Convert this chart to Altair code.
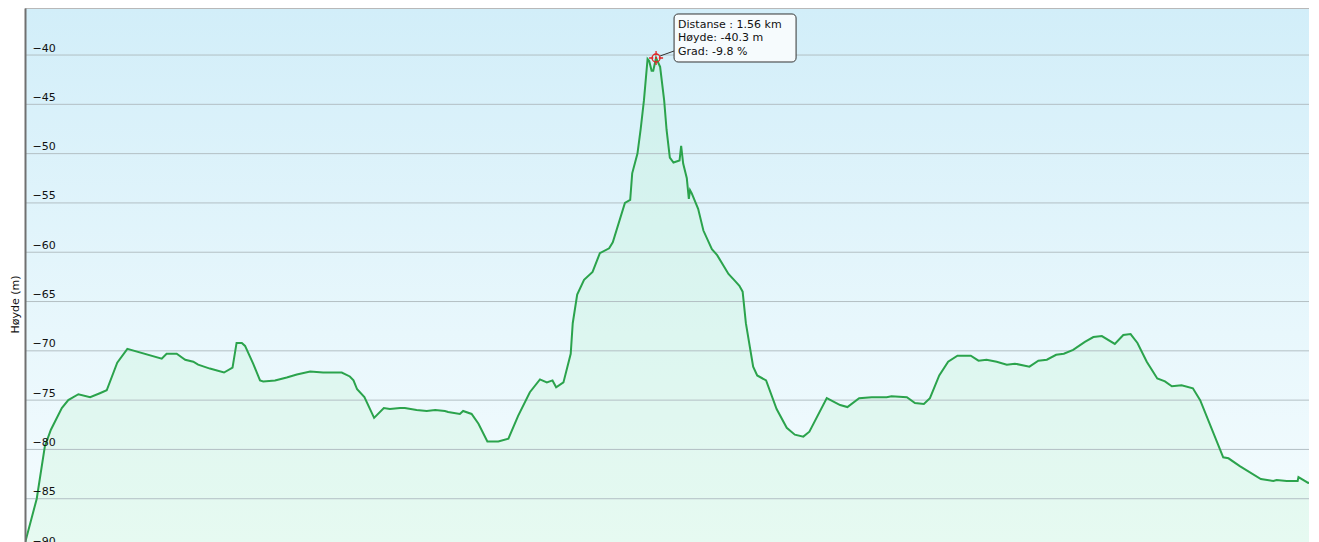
import altair as alt
import pandas as pd

# ---- data (distance in km, elevation in m) ----
dist_km = [0.000, 0.029, 0.049, 0.064, 0.091, 0.107, 0.132, 0.161, 0.185, 0.202,
           0.228, 0.253, 0.338, 0.350, 0.375, 0.396, 0.416, 0.428, 0.457, 0.492,
           0.513, 0.523, 0.536, 0.544, 0.564, 0.581, 0.589, 0.618, 0.647, 0.672,
           0.705, 0.737, 0.783, 0.803, 0.812, 0.821, 0.839, 0.863, 0.887, 0.902,
           0.927, 0.939, 0.968, 0.993, 1.014, 1.038, 1.046, 1.075, 1.083, 1.104,
           1.121, 1.143, 1.170, 1.195, 1.219, 1.248, 1.273, 1.290, 1.304, 1.313,
           1.331, 1.349, 1.354, 1.365, 1.382, 1.403, 1.421, 1.444, 1.453, 1.483,
           1.496, 1.501, 1.514, 1.522, 1.530, 1.539, 1.543, 1.549, 1.553, 1.560,
           1.570, 1.580, 1.586, 1.594, 1.603, 1.618, 1.622, 1.627, 1.636, 1.641,
           1.644, 1.648, 1.664, 1.677, 1.698, 1.711, 1.739, 1.755, 1.766, 1.774,
           1.782, 1.800, 1.810, 1.832, 1.858, 1.883, 1.903, 1.924, 1.939, 1.982,
           2.015, 2.033, 2.062, 2.093, 2.130, 2.142, 2.180, 2.200, 2.222, 2.237,
           2.260, 2.282, 2.305, 2.338, 2.357, 2.377, 2.402, 2.427, 2.447, 2.483,
           2.505, 2.526, 2.549, 2.568, 2.591, 2.620, 2.641, 2.662, 2.694, 2.715,
           2.733, 2.750, 2.773, 2.799, 2.818, 2.835, 2.859, 2.887, 2.905, 2.962,
           2.975, 3.003, 3.055, 3.086, 3.094, 3.119, 3.146, 3.148, 3.172, 3.199]

elev_m = [-89.5, -85.0, -79.7, -78.0, -75.8, -75.0, -74.4, -74.7, -74.3, -74.0,
          -71.2, -69.8, -70.8, -70.3, -70.3, -70.9, -71.1, -71.4, -71.8, -72.2,
          -71.7, -69.2, -69.2, -69.5, -71.3, -73.0, -73.1, -73.0, -72.7, -72.4,
          -72.1, -72.2, -72.2, -72.6, -73.0, -73.9, -74.7, -76.8, -75.8, -75.9,
          -75.8, -75.8, -76.0, -76.1, -76.0, -76.1, -76.2, -76.4, -76.1, -76.4,
          -77.4, -79.2, -79.2, -78.9, -76.6, -74.2, -72.9, -73.2, -73.0, -73.7,
          -73.2, -70.3, -67.2, -64.3, -62.8, -62.0, -60.1, -59.6, -59.0, -55.0,
          -54.7, -52.0, -50.0, -47.5, -44.6, -40.4, -40.6, -41.6, -41.6, -40.3,
          -41.2, -44.6, -47.6, -50.4, -50.9, -50.7, -49.2, -51.0, -52.5, -54.6,
          -53.7, -54.0, -55.6, -57.8, -59.7, -60.3, -62.2, -62.9, -63.4, -64.0,
          -67.2, -71.6, -72.5, -73.0, -75.9, -77.8, -78.5, -78.7, -78.2, -74.8,
          -75.5, -75.7, -74.8, -74.7, -74.7, -74.6, -74.7, -75.3, -75.4, -74.8,
          -72.5, -71.1, -70.5, -70.5, -71.0, -70.9, -71.1, -71.4, -71.3, -71.6,
          -71.0, -70.9, -70.4, -70.3, -69.9, -69.1, -68.6, -68.5, -69.3, -68.4,
          -68.3, -69.2, -71.1, -72.8, -73.1, -73.6, -73.5, -73.8, -75.0, -80.8,
          -80.9, -81.7, -83.0, -83.2, -83.1, -83.2, -83.2, -82.8, -83.4, -83.2]

y_ticks = [-90, -85, -80, -75, -70, -65, -60, -55, -50, -45, -40]

tip_dist = 1.56
tip_elev = -40.3
tip_grad = -9.8
tip_lines = [f"Distanse : {tip_dist:.2f} km", f"Høyde: {tip_elev:.1f} m", f"Grad: {tip_grad:.1f} %"]

# ---- layout ----
W, H = 1284, 542
X_MAX = W * 0.002472
Y_TOP = -35.23
Y_BOT = Y_TOP - H / 9.86
FONT = "DejaVu Sans"

df = pd.DataFrame({"d": dist_km, "e": elev_m})
grid_df = pd.DataFrame({"e": y_ticks})
tip_df = pd.DataFrame({"d": [tip_dist], "e": [tip_elev]})

xs = alt.Scale(domain=[0, X_MAX], nice=False, zero=False)
ys = alt.Scale(domain=[Y_BOT, Y_TOP], nice=False, zero=False)

y_axis = alt.Axis(
    values=y_ticks, grid=False, ticks=False, tickSize=0,
    labelAlign="left", labelPadding=-7, labelBaseline="alphabetic",
    labelOffset=-4, labelFont=FONT, labelFontSize=11, labelColor="#111111",
    labelFlush=False, labelOverlap=False,
    domainColor="#707070", domainWidth=2,
    title="Høyde (m)", titleFont=FONT, titleFontSize=11,
    titleFontWeight="normal", titleColor="#111111",
    titleX=-10, titleY=296, titleAngle=270, titleAlign="center",
    titleBaseline="middle", zindex=1,
)

X = alt.X("d:Q", scale=xs, axis=None)
Y = alt.Y("e:Q", scale=ys, axis=y_axis)

bg = alt.Chart(pd.DataFrame({"a": [0]})).mark_rect(
    color=alt.Gradient(
        gradient="linear", x1=0, x2=0, y1=0, y2=1,
        stops=[alt.GradientStop(color="#d2eef9", offset=0),
               alt.GradientStop(color="#e8f7fc", offset=0.6),
               alt.GradientStop(color="#f5fcfe", offset=1)],
    )
).encode(x=alt.value(0), x2=alt.value(W), y=alt.value(0), y2=alt.value(H))

area = alt.Chart(df).mark_area(
    clip=True, color="#bdf2cc", opacity=0.26,
).encode(x=X, y=Y, y2=alt.datum(Y_BOT - 5))

grid = alt.Chart(grid_df).mark_rule(color="#b3bfc4", strokeWidth=1).encode(
    y=Y, x=alt.value(0), x2=alt.value(W),
)

top_rule = alt.Chart(pd.DataFrame({"a": [0]})).mark_rule(color="#b8b8b8", strokeWidth=1).encode(
    x=alt.value(0), x2=alt.value(W), y=alt.value(0.5)
)

line = alt.Chart(df).mark_line(clip=True, color="#2ba34c", strokeWidth=2).encode(x=X, y=Y)

callout = alt.Chart(tip_df).mark_rule(
    color="#333333", strokeWidth=1, xOffset=4, x2Offset=18, yOffset=-2, y2Offset=-7
).encode(x=X, x2="d:Q", y=Y, y2="e:Q")

box = alt.Chart(tip_df).mark_rect(
    xOffset=18, x2Offset=140, yOffset=-44, y2Offset=4, cornerRadius=4,
    stroke="#333333", strokeWidth=1, fill="#f6fbfd",
).encode(x=X, x2="d:Q", y=Y, y2="e:Q")

tip_text = alt.Chart(tip_df).mark_text(
    align="left", baseline="top", dx=22, dy=-39, lineHeight=13.3,
    font=FONT, fontSize=11, color="#111111",
).encode(x=X, y=Y, text=alt.value(tip_lines))

ring = alt.Chart(tip_df).mark_point(
    shape="circle", size=64, filled=False, color="#e02424", strokeWidth=1.3, opacity=1
).encode(x=X, y=Y)

cross = alt.Chart(tip_df).mark_point(
    shape="M-1,0H-0.4M0.4,0H1M0,-1V-0.4M0,0.4V1", size=196, filled=False,
    color="#e02424", strokeWidth=1.3, opacity=1
).encode(x=X, y=Y)

dot = alt.Chart(tip_df).mark_point(
    shape="circle", size=5, filled=True, color="#e02424", opacity=1
).encode(x=X, y=Y)

chart = alt.layer(
    bg, area, grid, top_rule, line, callout, box, tip_text, ring, cross, dot
).properties(
    width=W, height=H,
    autosize=alt.AutoSizeParams(type="none"),
    padding={"left": 17, "top": 0, "right": 0, "bottom": 0},
).configure_view(stroke=None)

chart.save("out.html", embed_options={"renderer": "svg", "actions": False})
